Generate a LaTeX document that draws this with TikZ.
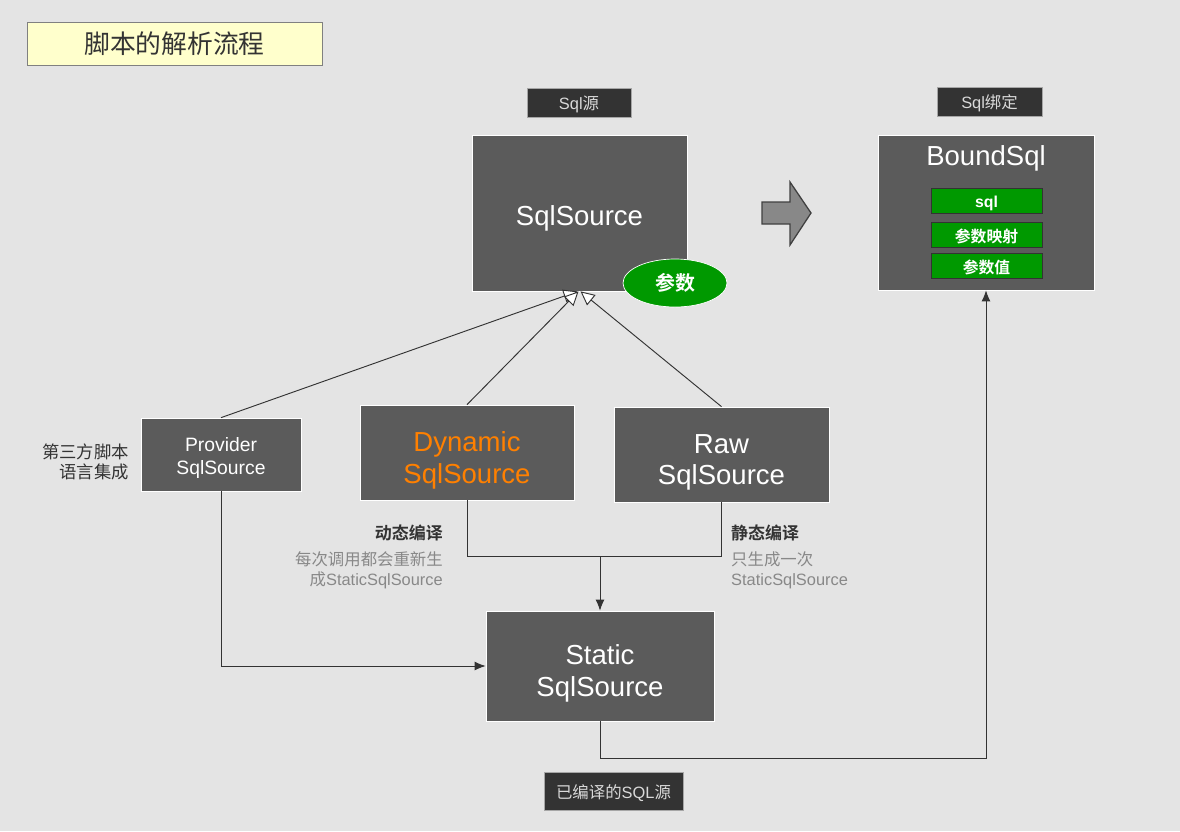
\documentclass[tikz,border=0pt]{standalone}
\usepackage{fontspec}
\setmainfont{Liberation Sans}
\newfontfamily\cjk[BoldFont={Noto Sans CJK SC Bold}]{Noto Sans CJK SC}
\usetikzlibrary{arrows.meta,shapes.geometric}

\definecolor{bggray}{HTML}{E4E4E4}
\definecolor{boxgray}{HTML}{5B5B5B}
\definecolor{taggray}{HTML}{333333}
\definecolor{linegray}{HTML}{333333}
\definecolor{titlefill}{HTML}{FFFFCC}
\definecolor{sqlgreen}{HTML}{009900}
\definecolor{dynorange}{HTML}{FF8000}
\definecolor{notegray}{HTML}{888888}
\definecolor{arrowfill}{HTML}{888888}

% strut that pushes box text down a little
\newcommand{\boxstrut}[1]{\rule{0pt}{#1em}}

\tikzset{
  box/.style={draw=white, line width=0.6pt, fill=boxgray, text=white, align=center, inner sep=0pt},
  tag/.style={draw=gray!70, line width=0.5pt, fill=taggray, text=white!85!black, inner sep=0pt,
    minimum height=0.87cm, font=\fontsize{14}{16}\selectfont, execute at begin node={\boxstrut{1.05}}},
  item/.style={draw=linegray, line width=0.8pt, fill=sqlgreen, text=white, inner sep=0pt,
    minimum width=3.33cm, minimum height=0.75cm, font=\bfseries\fontsize{13.5}{15}\selectfont,
    execute at begin node={\boxstrut{1.1}}},
  note/.style={text=notegray, align=left, inner sep=0pt, font=\fontsize{14}{17}\selectfont},
  link/.style={draw=linegray, line width=0.8pt},
  arr/.style={link, -{Latex[length=0.33cm,width=0.27cm]}},
  inherit/.style={link, -{Triangle[fill=white,length=0.42cm,width=0.4cm]}}
}

\begin{document}
\begin{tikzpicture}[x=0.03cm, y=-0.03cm]

% Background
\fill[bggray] (0,0) rectangle (1180,831);
\useasboundingbox (0,0) rectangle (1180,831);

% Title
\node[draw=gray, line width=0.8pt, fill=titlefill, text=taggray, minimum width=8.85cm, minimum height=1.29cm,
  inner sep=0pt, font=\cjk\fontsize{22}{24}\selectfont] (title) at (174.5,43.5) {脚本的解析流程};

% Tags
\node[tag, minimum width=3.12cm] (srctag) at (579,102.5) {Sql{\cjk 源}};
\node[tag, minimum width=3.15cm] (bindtag) at (989.5,101.5) {Sql{\cjk 绑定}};
\node[tag, minimum width=4.17cm, minimum height=1.14cm] (compiledtag) at (613.5,791) {{\cjk 已编译的}SQL{\cjk 源}};

% SqlSource
\node[box, minimum width=6.45cm, minimum height=4.68cm, font=\fontsize{23.5}{27}\selectfont] (src) at (579.5,213) {\boxstrut{1.15}SqlSource};
\node[ellipse, draw=white, line width=0.6pt, fill=sqlgreen, text=white, minimum width=3.12cm, minimum height=1.44cm,
  inner sep=0pt, font=\cjk\bfseries\fontsize{17}{19}\selectfont] (param) at (675,283) {参数};

% Block arrow
\draw[fill=arrowfill, draw=black!75, line width=1.1pt] (762,202) -- (790,202) -- (790,182) -- (811,213)
  -- (790,245) -- (790,224) -- (762,224) -- cycle;

% BoundSql
\node[box, minimum width=6.48cm, minimum height=4.65cm] (bound) at (986,212.5) {};
\node[text=white, inner sep=0pt, font=\fontsize{23.5}{27}\selectfont] (boundtitle) at (986,158) {BoundSql};
\node[item] (sqlitem) at (986.5,200.5) {sql};
\node[item] (mapitem) at (986.5,234.5) {\cjk 参数映射};
\node[item] (valitem) at (986.5,265.5) {\cjk 参数值};

% Implementations
\node[box, minimum width=4.8cm, minimum height=2.19cm, font=\fontsize{16.5}{19.5}\selectfont] (prov) at (221,454.5) {\boxstrut{1.1}Provider\\SqlSource};
\node[box, minimum width=6.42cm, minimum height=2.85cm, text=dynorange, font=\fontsize{23.5}{27}\selectfont] (dyn) at (467,452.5) {\boxstrut{1.3}Dynamic\\SqlSource};
\node[box, minimum width=6.45cm, minimum height=2.85cm, font=\fontsize{23.5}{27}\selectfont] (raw) at (721.5,454.5) {\boxstrut{1.25}Raw\\SqlSource};
\node[box, minimum width=6.84cm, minimum height=3.3cm, font=\fontsize{23.5}{27}\selectfont] (static) at (600,666) {\boxstrut{1.25}Static\\SqlSource};

% Notes
\node[anchor=east, align=right, text=taggray, inner sep=0pt, font=\cjk\fontsize{14.8}{17}\selectfont] (provnote) at (129,462) {第三方脚本\\语言集成};
\node[anchor=east, text=taggray, inner sep=0pt, font=\cjk\bfseries\fontsize{14.5}{17}\selectfont] (dynhead) at (443,533) {动态编译};
\node[note, anchor=east, align=right] (dynnote) at (443,570) {{\cjk 每次调用都会重新生}\\{\cjk 成}StaticSqlSource};
\node[anchor=west, text=taggray, inner sep=0pt, font=\cjk\bfseries\fontsize{14.5}{17}\selectfont] (rawhead) at (731,533) {静态编译};
\node[note, anchor=west] (rawnote) at (731,570) {{\cjk 只生成一次}\\StaticSqlSource};

% Inheritance
\draw[inherit] (prov.north) -- ([xshift=-0.06cm]src.south);
\draw[inherit] (dyn.north) -- ([xshift=-0.03cm]src.south);
\draw[inherit] (raw.north) -- ([xshift=0.03cm]src.south);

% Compilation
\coordinate (merge) at (600,556);
\draw[link] (dyn.south) |- (merge) -| (raw.south);
\draw[arr] (merge) -- (static.north);
\draw[arr] (prov.south) |- (static.west);
\draw[arr] (static.south) -- ++(0,37) -| (bound.south);

\end{tikzpicture}
\end{document}
